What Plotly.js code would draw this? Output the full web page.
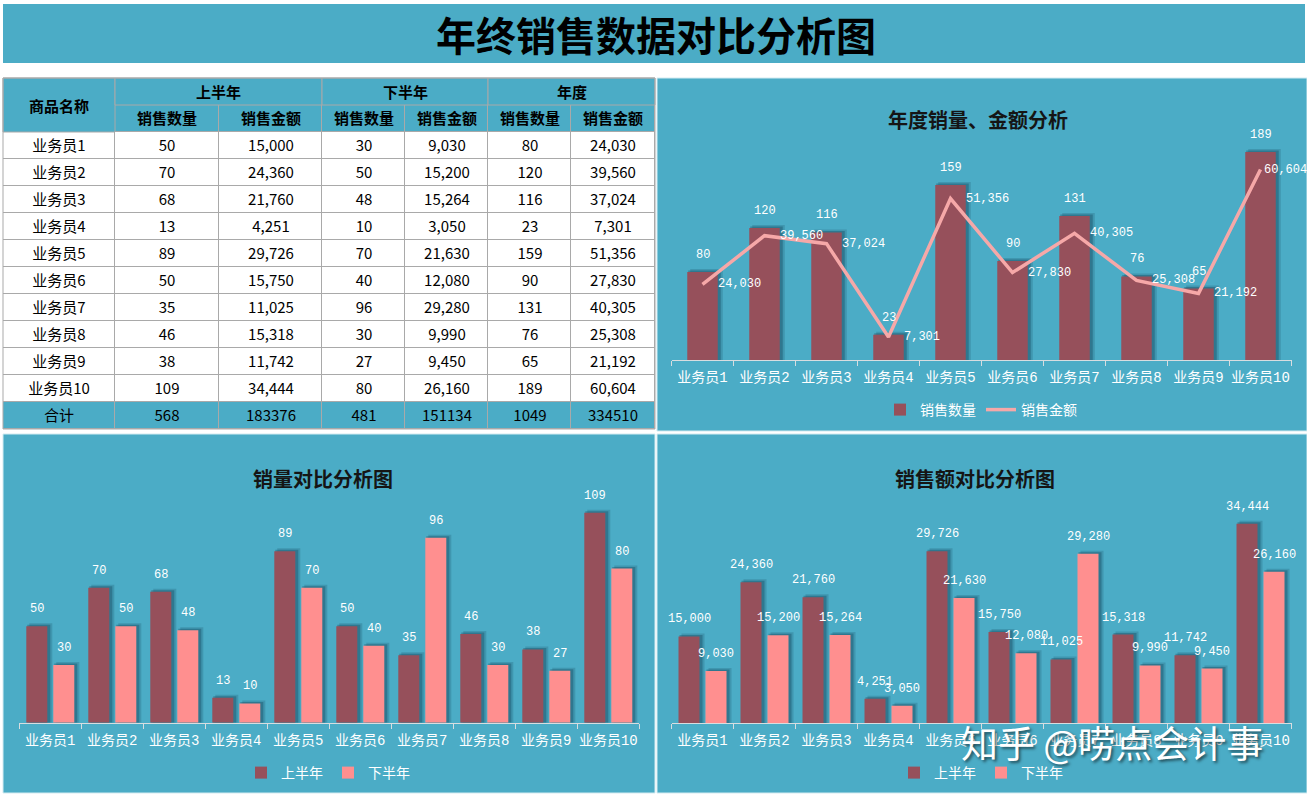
<!DOCTYPE html>
<html><head><meta charset="utf-8">
<script src="https://cdn.plot.ly/plotly-3.0.1.min.js"></script>
<style>html,body{margin:0;padding:0;background:#fff;}#chart{width:1307px;height:797px;}</style>
</head><body><div id="chart"></div>
<script>
// ---------- data ----------
const names  = ['业务员1','业务员2','业务员3','业务员4','业务员5','业务员6','业务员7','业务员8','业务员9','业务员10'];
const h1Qty  = [50,70,68,13,89,50,35,46,38,109];
const h1Amt  = [15000,24360,21760,4251,29726,15750,11025,15318,11742,34444];
const h2Qty  = [30,50,48,10,70,40,96,30,27,80];
const h2Amt  = [9030,15200,15264,3050,21630,12080,29280,9990,9450,26160];
const yrQty  = [80,120,116,23,159,90,131,76,65,189];
const yrAmt  = [24030,39560,37024,7301,51356,27830,40305,25308,21192,60604];
const totals = [568,183376,481,151134,1049,334510];
const totalLabel = '合计';
const colHeader1 = ['商品名称','上半年','下半年','年度'];
const colHeader2 = ['销售数量','销售金额','销售数量','销售金额','销售数量','销售金额'];

// ---------- style / layout constants ----------
const W = 1307, H = 797;
const px = v => v / W, py = v => 1 - v / H;
const TEAL = '#4BACC6', BAR1 = '#96505B', BAR2 = '#FF8F8F', LINE = '#F6A8A8';
const GRID = '#A9A9A9';
const CJK = 'Noto Sans CJK SC';
const MIX = 'Liberation Mono, Noto Sans CJK SC';
const LBL = {family: 'Liberation Mono', size: 12, color: '#ffffff'};
const fmt = v => v.toLocaleString('en-US');
const CAT = 62; // category width in px
const lineLabelShift = [13,13,13,13,13,13,13,13,13,1]; // px offsets of line labels (last one kept inside)

const colEdges = [3,115,219,322,405,488,571,655];
const rowEdges = [105,132,159,186,213,240,267,294,321,348,375,402,429];

// ---------- traces ----------
const traces = [];
function shadow(x, y, xa, ya, width, offset, unitPx, alpha, dx, dy) {
  return {type:'bar', x:x, y:y.map(v => v + dy / unitPx), xaxis:xa, yaxis:ya,
    width:width + 2 / CAT, offset:offset + dx / CAT - 1 / CAT,
    marker:{color:'rgba(10,50,70,' + alpha + ')'}, showlegend:false, hoverinfo:'skip'};
}
// chart 1
const w1 = 30.5 / CAT;
traces.push(shadow(names, yrQty, 'x', 'y', w1, -w1/2, 1.1, 0.18, 4, 3));
traces.push(shadow(names, yrQty, 'x', 'y', w1, -w1/2, 1.1, 0.3, 2, 1.5));
traces.push({type:'bar', name:'销售数量', x:names, y:yrQty, xaxis:'x', yaxis:'y', width:w1, offset:-w1/2,
  marker:{color:BAR1}, legend:'legend'});
traces.push({type:'scatter', mode:'lines', name:'销售金额', x:names, y:yrAmt, xaxis:'x', yaxis:'y2',
  line:{color:LINE, width:3.5}, legend:'legend'});

// chart 2 & 3
const w2 = 21 / CAT, o1 = -24 / CAT, o2 = 3 / CAT;
function grouped(xa, ya, a, b, unitPx, leg) {
  traces.push(shadow(names, a, xa, ya, w2, o1, unitPx, 0.18, 4, 3));
  traces.push(shadow(names, b, xa, ya, w2, o2, unitPx, 0.18, 4, 3));
  traces.push(shadow(names, a, xa, ya, w2, o1, unitPx, 0.3, 2, 1.5));
  traces.push(shadow(names, b, xa, ya, w2, o2, unitPx, 0.3, 2, 1.5));
  traces.push({type:'bar', name:'上半年', x:names, y:a, xaxis:xa, yaxis:ya, width:w2, offset:o1,
    marker:{color:BAR1}, legend:leg});
  traces.push({type:'bar', name:'下半年', x:names, y:b, xaxis:xa, yaxis:ya, width:w2, offset:o2,
    marker:{color:BAR2}, legend:leg});
}
grouped('x2', 'y3', h1Qty, h2Qty, 1.927, 'legend2');
grouped('x3', 'y4', h1Amt, h2Amt, 0.00579, 'legend3');

// table body as heatmap
const z = [], txt = [];
z.push(colEdges.slice(1).map(() => 1));
txt.push([''].concat(colHeader2.map(s => '<b>' + s + '</b>')));
names.forEach((n, i) => {
  z.push(colEdges.slice(1).map(() => 0));
  txt.push([n, String(h1Qty[i]), fmt(h1Amt[i]), String(h2Qty[i]), fmt(h2Amt[i]), String(yrQty[i]), fmt(yrAmt[i])]);
});
z.push(colEdges.slice(1).map(() => 1));
txt.push([totalLabel].concat(totals.map(String)));
traces.push({type:'heatmap', x:colEdges, y:rowEdges, z:z, text:txt, texttemplate:'%{text}',
  textfont:{family:CJK, size:15, color:'#000000'}, colorscale:[[0,'#ffffff'],[1,TEAL]], zmin:0, zmax:1,
  showscale:false, xgap:1, ygap:1, hoverinfo:'skip', xaxis:'x4', yaxis:'y5'});

// ---------- shapes ----------
const rect = (x0,y0,x1,y1,fill,line,layer) => ({type:'rect', xref:'paper', yref:'paper',
  x0:px(x0), x1:px(x1), y0:py(y1), y1:py(y0), fillcolor:fill, line:{color:line||'rgba(0,0,0,0)', width:line?1:0}, layer:layer||'below'});
const shapes = [
  rect(3,4,1305,63,TEAL,null),
  rect(657,78,1307,431,TEAL,'#d3ebf1'),
  rect(3,434,655,793,TEAL,'#d3ebf1'),
  rect(657,434,1307,793,TEAL,'#d3ebf1'),
  rect(3,105,655,429,GRID,null),
  rect(3,78,115,132,TEAL,GRID,'above'),
  rect(115,78,322,105,TEAL,GRID,'above'),
  rect(322,78,488,105,TEAL,GRID,'above'),
  rect(488,78,655,105,TEAL,GRID,'above'),
  rect(3,78,655,429,'rgba(0,0,0,0)',GRID,'above')
];

// ---------- annotations ----------
const ann = [];
const txtAnn = (x, y, text, font, extra) => Object.assign({xref:'paper', yref:'paper', x:px(x), y:py(y), text:text,
  showarrow:false, xanchor:'center', yanchor:'middle', font:font}, extra || {});
ann.push(txtAnn(656, 34, '<b>年终销售数据对比分析图</b>', {family:CJK, size:40, color:'#000'}));
const hdrFont = {family:CJK, size:15, color:'#000'};
ann.push(txtAnn(59, 105, '<b>' + colHeader1[0] + '</b>', hdrFont));
ann.push(txtAnn(218.5, 91.5, '<b>' + colHeader1[1] + '</b>', hdrFont));
ann.push(txtAnn(405, 91.5, '<b>' + colHeader1[2] + '</b>', hdrFont));
ann.push(txtAnn(571.5, 91.5, '<b>' + colHeader1[3] + '</b>', hdrFont));
const ttlFont = {family:CJK, size:20, color:'#151515', weight:600};
ann.push(txtAnn(978, 120, '年度销量、金额分析', ttlFont));
ann.push(txtAnn(323, 478, '销量对比分析图', ttlFont));
ann.push(txtAnn(975, 478, '销售额对比分析图', ttlFont));

function barLabels(xa, ya, vals, xshift, f) {
  vals.forEach((v, i) => ann.push({xref:xa, yref:ya, x:names[i], y:v, text:f(v), showarrow:false,
    xanchor:'center', yanchor:'middle', xshift:xshift, yshift:17, font:LBL}));
}
barLabels('x', 'y', yrQty, 0, String);
yrAmt.forEach((v, i) => ann.push({xref:'x', yref:'y2', x:names[i], y:v, text:fmt(v), showarrow:false,
  xanchor:'left', yanchor:'middle', xshift:lineLabelShift[i], yshift:0, font:LBL}));
barLabels('x2', 'y3', h1Qty, -13.5, String);
barLabels('x2', 'y3', h2Qty, 13.5, String);
barLabels('x3', 'y4', h1Amt, -13.5, fmt);
barLabels('x3', 'y4', h2Amt, 13.5, fmt);

ann.push(txtAnn(1112, 742, '知乎 @唠点会计事', {family:CJK, size:37, color:'#ffffff',
  shadow:'2px 2px 3px rgba(0,0,0,0.55)'}));

// ---------- axes ----------
const catAxis = (l, r, anchor) => ({domain:[px(l), px(r)], anchor:anchor, type:'category',
  showline:true, linecolor:'#d8dde0', linewidth:1, ticks:'outside', tickson:'boundaries', ticklen:5,
  tickcolor:'#d8dde0', showgrid:false, zeroline:false, fixedrange:true, tickangle:0, automargin:false,
  ticklabelstandoff:4,
  tickfont:{family:MIX, size:14, color:'#ffffff'}, range:[-0.5, 9.5]});
const valAxis = (b, t, range, anchor) => ({domain:[py(b), py(t)], anchor:anchor, range:range,
  visible:false, showgrid:false, zeroline:false, fixedrange:true});

const legendBase = (x, y) => ({x:px(x), y:py(y), xanchor:'center', yanchor:'middle', orientation:'h',
  bgcolor:'rgba(0,0,0,0)', font:{family:CJK, size:14, color:'#ffffff'}, itemwidth:30, tracegroupgap:0});

const layout = {
  width:W, height:H, margin:{l:0, r:0, t:0, b:0}, paper_bgcolor:'#ffffff', plot_bgcolor:'rgba(0,0,0,0)',
  barmode:'overlay', showlegend:true, hovermode:false,
  xaxis: catAxis(671.5, 1291.5, 'y'),
  yaxis: valAxis(360, 140, [0, 200], 'x'),
  yaxis2: Object.assign(valAxis(360, 140, [0, 70000], 'x'), {overlaying:'y', side:'right'}),
  xaxis2: catAxis(19.3, 639.3, 'y3'),
  yaxis3: valAxis(722.7, 491.5, [0, 120], 'x2'),
  xaxis3: catAxis(671.5, 1291.5, 'y4'),
  yaxis4: valAxis(723.3, 491.7, [0, 40000], 'x3'),
  xaxis4: {domain:[px(3), px(655)], anchor:'y5', range:[3, 655], visible:false, fixedrange:true},
  yaxis5: {domain:[py(429), py(78)], anchor:'x4', range:[429, 78], visible:false, fixedrange:true},
  legend: legendBase(981, 410),
  legend2: legendBase(328, 773),
  legend3: legendBase(981, 773),
  shapes: shapes,
  annotations: ann
};

Plotly.newPlot('chart', traces, layout, {staticPlot:true, displayModeBar:false});
</script>
</body></html>
